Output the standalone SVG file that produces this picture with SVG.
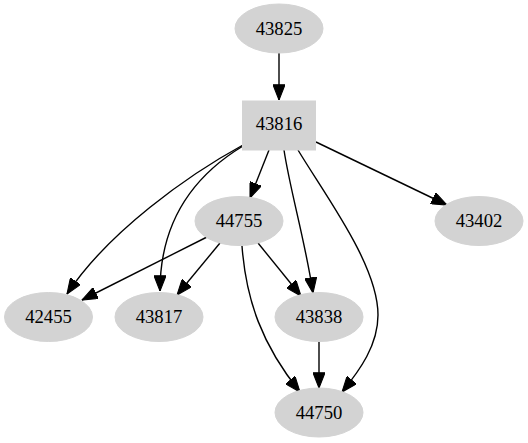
<svg xmlns="http://www.w3.org/2000/svg" width="528" height="443" viewBox="0 0 528 443">
<style>
.n{fill:#d3d3d3;stroke:#d3d3d3}
.t{font-family:"Liberation Serif","Times New Roman",serif;font-size:18.7px;text-anchor:middle;fill:#000}
.e{fill:none;stroke:#000;stroke-width:1.4;marker-end:url(#ah)}
</style>
<defs>
<marker id="ah" markerUnits="userSpaceOnUse" markerWidth="16" markerHeight="12" viewBox="0 0 14 11" refX="14" refY="5.5" orient="auto">
<path d="M0,0 L14,5.5 L0,11 Z" fill="#000" stroke="#000" stroke-width="1"/>
</marker>
</defs>
<rect width="528" height="443" fill="#fff"/>
<g id="edges">
<path class="e" d="M279,53 L279,100"/>
<path class="e" d="M243,145 C188,175 108,232 67,294"/>
<path class="e" d="M243,146 C195,175 160,220 160,291"/>
<path class="e" d="M269,150 L250,198"/>
<path class="e" d="M284,150 C290,190 305,240 313,293"/>
<path class="e" d="M298,150 C325,195 378,265 378,315 C378,345 360,370 342,392"/>
<path class="e" d="M316,142 L447,205"/>
<path class="e" d="M207,237 L82,300"/>
<path class="e" d="M220,243 L177,295"/>
<path class="e" d="M258,243 L301,296"/>
<path class="e" d="M242,246 C246,300 262,345 300,392"/>
<path class="e" d="M319,342 L319,388"/>
</g>
<g id="n43825"><ellipse class="n" cx="279" cy="28.5" rx="44" ry="24.5"/><text class="t" x="279" y="34.5">43825</text></g>
<g id="n43816"><rect class="n" x="242.5" y="101" width="73" height="49"/><text class="t" x="279" y="129.5">43816</text></g>
<g id="n44755"><ellipse class="n" cx="239" cy="221" rx="44" ry="24.5"/><text class="t" x="239" y="227">44755</text></g>
<g id="n43402"><ellipse class="n" cx="479" cy="221" rx="44" ry="24.5"/><text class="t" x="479" y="227">43402</text></g>
<g id="n42455"><ellipse class="n" cx="48.5" cy="317" rx="44" ry="24.5"/><text class="t" x="48.5" y="323">42455</text></g>
<g id="n43817"><ellipse class="n" cx="159" cy="317" rx="44" ry="24.5"/><text class="t" x="159" y="323">43817</text></g>
<g id="n43838"><ellipse class="n" cx="319" cy="317" rx="44" ry="24.5"/><text class="t" x="319" y="323">43838</text></g>
<g id="n44750"><ellipse class="n" cx="319" cy="412.5" rx="44" ry="24.5"/><text class="t" x="319" y="418.5">44750</text></g>
</svg>
